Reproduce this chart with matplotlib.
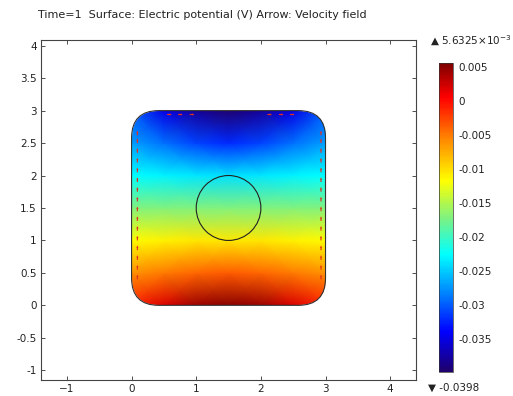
import numpy as np
import matplotlib
matplotlib.use("Agg")
import matplotlib.pyplot as plt
from matplotlib.patches import FancyBboxPatch, Circle
from matplotlib.colors import LinearSegmentedColormap

# ---- data ----
grid_x = [0.0, 0.5, 1.0, 1.5, 2.0, 2.5, 3.0]
grid_y = [0.0, 0.5, 1.0, 1.5, 2.0, 2.5, 3.0]
potential = [
    [-0.001, 0.002, 0.0045, 0.0052, 0.0045, 0.002, -0.001],   # y=0
    [-0.006, -0.005, -0.004, -0.0035, -0.004, -0.005, -0.006],  # y=0.5
    [-0.0115, -0.011, -0.0105, -0.0105, -0.0105, -0.011, -0.0115],  # y=1
    [-0.017, -0.017, -0.017, -0.017, -0.017, -0.017, -0.017],  # y=1.5
    [-0.0225, -0.023, -0.0235, -0.024, -0.0235, -0.023, -0.0225],  # y=2
    [-0.027, -0.029, -0.031, -0.032, -0.031, -0.029, -0.027],  # y=2.5
    [-0.030, -0.035, -0.038, -0.0395, -0.038, -0.035, -0.030],  # y=3
]
vmin, vmax = -0.0398, 0.0056325
cbar_ticks = [0.005, 0, -0.005, -0.01, -0.015, -0.02, -0.025, -0.03, -0.035]
cbar_ticklabels = ["0.005", "0", "-0.005", "-0.01", "-0.015", "-0.02", "-0.025", "-0.03", "-0.035"]
xticks = [-1, 0, 1, 2, 3, 4]
yticks = [-1, -0.5, 0, 0.5, 1, 1.5, 2, 2.5, 3, 3.5, 4]
ytick_labels = ["-1", "-0.5", "0", "0.5", "1", "1.5", "2", "2.5", "3", "3.5", "4"]

# velocity arrows (positions along the walls)
side_arrow_y = [0.40, 0.55, 0.70, 0.85, 1.00, 1.15, 1.30, 1.45, 1.60, 1.75, 1.90, 2.05, 2.20, 2.35, 2.50, 2.62]
left_arrow_x = 0.09
right_arrow_x = 2.93
top_arrow_x = [0.55, 0.72, 0.90, 2.10, 2.28, 2.45]
top_arrow_y = 2.94

title = "Time=1  Surface: Electric potential (V) Arrow: Velocity field"

rainbow = LinearSegmentedColormap.from_list("comsol_rainbow", [
    (0.00, (0.12, 0.00, 0.42)),
    (0.13, (0.00, 0.00, 1.00)),
    (0.25, (0.00, 0.50, 1.00)),
    (0.38, (0.00, 1.00, 1.00)),
    (0.50, (0.50, 0.95, 0.50)),
    (0.62, (1.00, 1.00, 0.00)),
    (0.75, (1.00, 0.55, 0.00)),
    (0.89, (1.00, 0.00, 0.00)),
    (1.00, (0.50, 0.00, 0.00)),
])

# ---- figure ----
fig = plt.figure(figsize=(5.13, 3.96), dpi=100)
ax = fig.add_axes([0.080, 0.0404, 0.731, 0.859])
cax = fig.add_axes([0.856, 0.0606, 0.027, 0.780])

box = FancyBboxPatch((0, 0), 3, 3, boxstyle="round,pad=0,rounding_size=0.42",
                     facecolor="none", edgecolor="#333333", linewidth=0.8, zorder=4)
ax.add_patch(box)

X, Y = np.meshgrid(grid_x, grid_y)
mesh = ax.pcolormesh(X, Y, np.array(potential), shading="gouraud",
                     cmap=rainbow, vmin=vmin, vmax=vmax, zorder=1)
mesh.set_clip_path(box)

circ = Circle((1.5, 1.5), 0.5, facecolor="none", edgecolor="#222222", linewidth=0.8, zorder=5)
ax.add_patch(circ)

# arrows
qkw = dict(color="#e03020", angles="xy", scale_units="xy", scale=14, width=0.003,
           headwidth=2, headlength=2, headaxislength=2, zorder=3)
n = len(side_arrow_y)
ax.quiver([left_arrow_x] * n, side_arrow_y, [0] * n, [1] * n, **qkw)
ax.quiver([right_arrow_x] * n, side_arrow_y, [0] * n, [1] * n, **qkw)
m = len(top_arrow_x)
ax.quiver(top_arrow_x, [top_arrow_y] * m, [1] * m, [0] * m, **qkw)

ax.set_xlim(-1.40, 4.40)
ax.set_ylim(-1.15, 4.09)
ax.set_xticks(xticks)
ax.set_yticks(yticks)
ax.set_yticklabels(ytick_labels)
ax.tick_params(direction="in", top=True, right=True, length=3, width=0.6,
               labelsize=7.5, colors="#333333", labelcolor="#222222", pad=3)
for s in ax.spines.values():
    s.set_color("#444444")
    s.set_linewidth(0.8)

fig.text(0.074, 0.962, title, fontsize=8, color="#222222", va="center", ha="left")

cb = fig.colorbar(mesh, cax=cax, ticks=cbar_ticks)
cb.ax.set_yticklabels(cbar_ticklabels)
cb.ax.tick_params(labelsize=7.5, length=0, pad=4, labelcolor="#222222")
cb.outline.set_linewidth(0.5)
cb.outline.set_edgecolor("#333333")

fig.text(0.838, 0.897, "\u25B2 5.6325\u00D710$^{-3}$", fontsize=7.5, color="#222222",
         va="center", ha="left")
fig.text(0.835, 0.021, "\u25BC -0.0398", fontsize=7.5, color="#222222",
         va="center", ha="left")

fig.savefig("out.png", dpi=100)
